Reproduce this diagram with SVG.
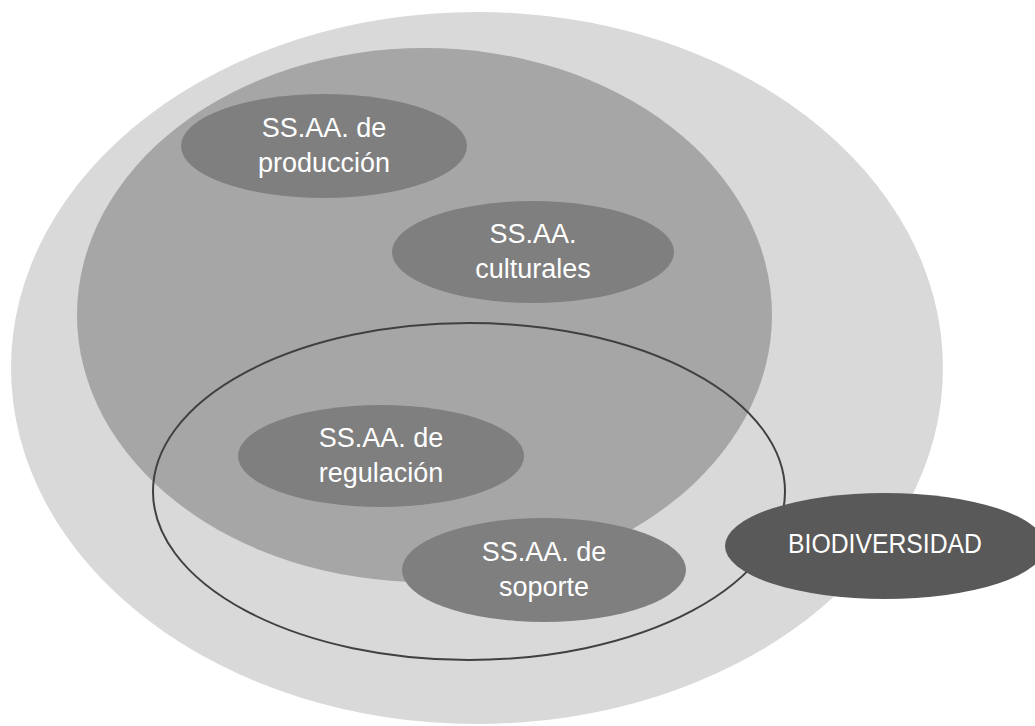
<svg xmlns="http://www.w3.org/2000/svg" width="1035" height="726" viewBox="0 0 1035 726">
<style>
.lbl{font-family:"Liberation Sans",Arial,sans-serif;font-size:27px;fill:#ffffff;text-anchor:middle}
.svc{fill:#7f7f7f}
</style>
<rect width="1035" height="726" fill="#ffffff"/>
<g id="outer"><ellipse cx="477" cy="368" rx="466" ry="356" fill="#d9d9d9"/></g>
<g id="ecosystem"><ellipse cx="424.5" cy="315" rx="347.5" ry="267" fill="#a6a6a6"/></g>
<g id="produccion"><ellipse class="svc" cx="324" cy="146" rx="143" ry="52"/>
<text class="lbl" x="324" y="137">SS.AA. de</text><text class="lbl" x="324" y="172">producción</text></g>
<g id="culturales"><ellipse class="svc" cx="533" cy="252" rx="141" ry="51"/>
<text class="lbl" x="533" y="243">SS.AA.</text><text class="lbl" x="533" y="278">culturales</text></g>
<g id="regulacion"><ellipse class="svc" cx="381" cy="456" rx="143" ry="51"/>
<text class="lbl" x="381" y="447">SS.AA. de</text><text class="lbl" x="381" y="482">regulación</text></g>
<g id="soporte"><ellipse class="svc" cx="544" cy="570" rx="142" ry="52"/>
<text class="lbl" x="544" y="561">SS.AA. de</text><text class="lbl" x="544" y="596">soporte</text></g>
<g id="connectors"><ellipse cx="469" cy="491.5" rx="316" ry="168.5" fill="none" stroke="#404040" stroke-width="2"/></g>
<g id="biodiversidad"><ellipse cx="885" cy="546" rx="160" ry="53" fill="#595959"/>
<text class="lbl" x="885" y="553" textLength="194" lengthAdjust="spacingAndGlyphs">BIODIVERSIDAD</text></g>
</svg>
